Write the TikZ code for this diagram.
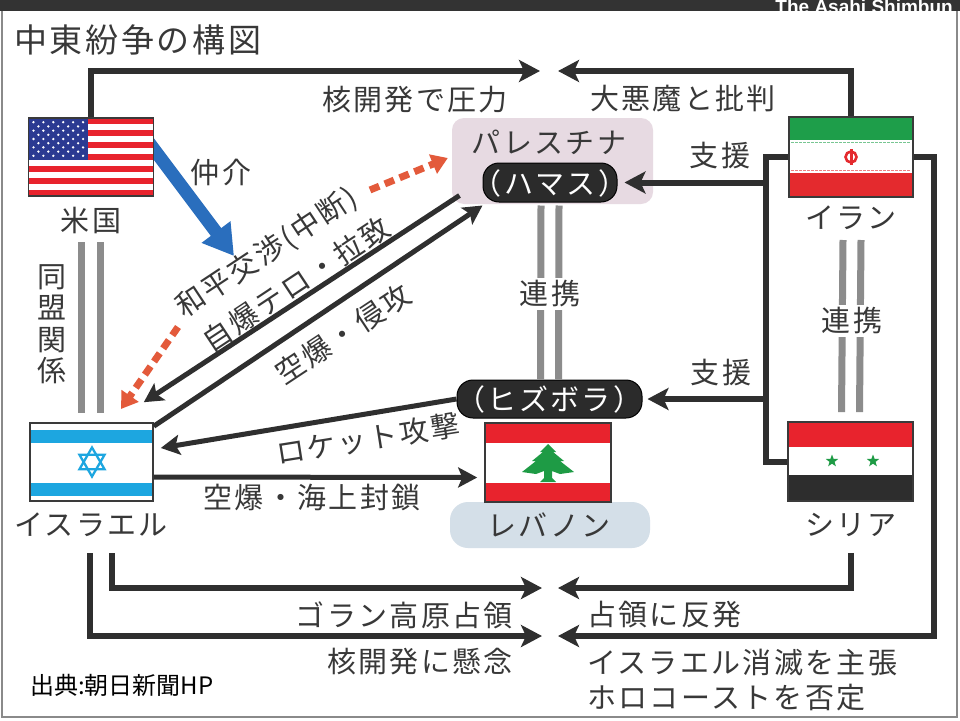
\documentclass[tikz,border=0pt]{standalone}
\usepackage{fontspec}
\setmainfont{Noto Sans CJK JP}
\newfontfamily\jp[LetterSpace=8]{Noto Sans CJK JP}
\newfontfamily\jpplain{Noto Sans CJK JP}
\newfontfamily\latsans{Liberation Sans}
\usetikzlibrary{arrows.meta,shapes.geometric}
\definecolor{ink}{HTML}{383838}
\definecolor{dline}{HTML}{2F2F2F}
\definecolor{gline}{HTML}{8C8C8C}
\definecolor{barc}{HTML}{333333}
\definecolor{framec}{HTML}{8A8A8A}
\definecolor{palc}{HTML}{E7DAE2}
\definecolor{lebc}{HTML}{D4DFE8}
\definecolor{pillc}{HTML}{2B2B2B}
\definecolor{usred}{HTML}{E8232D}
\definecolor{usblue}{HTML}{2B3A92}
\definecolor{irgreen}{HTML}{1E9E4A}
\definecolor{irred}{HTML}{E42A2E}
\definecolor{ilblue}{HTML}{1DA6E0}
\definecolor{cedar}{HTML}{1E9B45}
\definecolor{medblue}{HTML}{2A6EBD}
\definecolor{orng}{HTML}{E35A3B}
\definecolor{syblk}{HTML}{2D2D2D}
\definecolor{fbord}{HTML}{3A3A3A}
\tikzset{
  lbl/.style={font=\jp\fontsize{29}{30}\selectfont, text=ink, inner sep=0pt},
  conn/.style={draw=dline, line width=6pt},
  arr/.style={conn, -{Stealth[length=21pt,width=22pt,inset=5pt]}},
  darr/.style={draw=dline, line width=5pt, -{Stealth[length=19pt,width=20pt,inset=4pt]}},
  gl/.style={draw=gline, line width=7pt},
  pillbox/.style={fill=pillc, draw=black, line width=1pt, rounded corners=16pt, inner sep=0pt},
  pilltxt/.style={font=\jp\fontsize{29}{30}\selectfont, text=white, inner sep=0pt},
  flagbox/.style={draw=fbord, line width=1.6pt, inner sep=0pt},
  orarr/.style={draw=orng, line width=7pt, dash pattern=on 10pt off 6pt, -{Triangle[length=16pt,width=20pt]}},
}
\begin{document}
\begin{tikzpicture}[x=1pt,y=-1pt]
\useasboundingbox (0,0) rectangle (960,720);
\fill[white] (0,0) rectangle (960,720);
\fill[barc] (0,0) rectangle (960,11);
\draw[framec, line width=2pt] (2,11) -- (2,717) -- (957,717) -- (957,11);
\node[font=\latsans\bfseries\fontsize{19}{19}\selectfont, text=white, anchor=base east, inner sep=0pt] (brand) at (953,13) {The Asahi Shimbun};

% title
\node[anchor=west, font=\jp\fontsize{33}{34}\selectfont, text=ink, inner sep=0pt] (title) at (14,40) {中東紛争の構図};

% ---- boxes behind
\node[fill=palc, rounded corners=12pt, minimum width=201pt, minimum height=86pt, inner sep=0pt] (pal) at (552.5,161) {};
\node[lbl] (paltxt) at (549,142) {パレスチナ};
\node[pillbox, minimum width=134pt, minimum height=39pt] (hamas) at (550,182.5) {};
\node[pilltxt] (hamastxt) at (550,183) {（ハマス）};

\node[pillbox, minimum width=185pt, minimum height=38pt] (hez) at (549.5,399) {};
\node[pilltxt] (heztxt) at (549.5,399.5) {（ヒズボラ）};

\node[fill=lebc, rounded corners=18pt, minimum width=200pt, minimum height=46pt, inner sep=0pt] (leb) at (550,525) {};
\node[lbl] (lebtxt) at (549,525) {レバノン};

% ---- blue mediation arrow (behind US flag)
\coordinate (medtip) at (234,256);
\coordinate (medtail) at (147,140);
\draw[medblue, line width=13pt, -{Triangle[length=30pt,width=34pt]}] (medtail) -- (medtip);

% ---- US flag
\fill[white] (28.5,118) rectangle (153.5,196);
\foreach \i in {0,2,...,12} \fill[usred] (28.5,{118+6*\i}) rectangle (153.5,{124+6*\i});
\fill[usblue] (28.5,118) rectangle (88,160);
\foreach \r in {0,2,4,6,8} \foreach \c in {0,...,5} \fill[white] ({28.5+4.96*(2*\c+1)},{118+4.2*(\r+1)}) circle (1.3);
\foreach \r in {1,3,5,7} \foreach \c in {0,...,4} \fill[white] ({28.5+4.96*(2*\c+2)},{118+4.2*(\r+1)}) circle (1.3);
\node[flagbox, minimum width=125pt, minimum height=78pt] (us) at (91,157) {};
\node[lbl] (uslbl) at (91,220) {米国};

% ---- Iran flag
\fill[irgreen] (789,117) rectangle (913,140);
\fill[white] (789,140) rectangle (913,173);
\fill[irred] (789,173) rectangle (913,197);
\draw[irgreen!60, line width=1.4pt, dash pattern=on 2.5pt off 1.5pt] (791,142.5) -- (911,142.5);
\draw[irred!60, line width=1.4pt, dash pattern=on 2.5pt off 1.5pt] (791,170.5) -- (911,170.5);
\draw[irred, line width=2.6pt] (851,157) circle (5.5);
\fill[irred] (849.5,149) rectangle (852.5,165);
\node[flagbox, minimum width=124pt, minimum height=80pt] (iran) at (851,157) {};
\node[lbl] (iranlbl) at (851,218) {イラン};

% ---- Israel flag
\fill[white] (30,423) rectangle (153,501);
\fill[ilblue] (30,430) rectangle (153,443);
\fill[ilblue] (30,483) rectangle (153,496);
\draw[ilblue, line width=2.3pt] (92,462) +(90:14.5) -- +(210:14.5) -- +(330:14.5) -- cycle;
\draw[ilblue, line width=2.3pt] (92,462) +(30:14.5) -- +(150:14.5) -- +(270:14.5) -- cycle;
\node[flagbox, minimum width=123pt, minimum height=78pt] (isr) at (91.5,462) {};
\node[lbl] (isrlbl) at (91,525) {イスラエル};

% ---- Lebanon flag
\fill[usred] (485,423) rectangle (611,443);
\fill[white] (485,443) rectangle (611,483);
\fill[usred] (485,483) rectangle (611,502);
\fill[cedar] (548,444) -- (556,452) -- (553,452) -- (564,461) -- (560,461) -- (574,472) -- (560,474) -- (552,471) -- (552,478) -- (556,482) -- (540,482) -- (544,478) -- (544,471) -- (536,474) -- (522,472) -- (536,461) -- (532,461) -- (543,452) -- (540,452) -- cycle;
\node[flagbox, minimum width=126pt, minimum height=79pt] (lebf) at (548,462.5) {};

% ---- Syria flag
\fill[usred] (788,422) rectangle (913,447);
\fill[white] (788,447) rectangle (913,475);
\fill[syblk] (788,475) rectangle (913,501);
\node[star, star points=5, star point ratio=2.4, fill=cedar, inner sep=0pt, minimum size=13pt] (st1) at (832,461) {};
\node[star, star points=5, star point ratio=2.4, fill=cedar, inner sep=0pt, minimum size=13pt] (st2) at (873,461) {};
\node[flagbox, minimum width=125pt, minimum height=79pt] (syria) at (850.5,461.5) {};
\node[lbl] (syrlbl) at (851,525) {シリア};

% ---- top pressure lines
\coordinate (ttL) at (540,71);
\coordinate (ttR) at (558,71);
\draw[arr] (us.north) |- (ttL);
\draw[arr] (iran.north) |- (ttR);
\node[lbl] (l1) at (415,100) {核開発で圧力};
\node[lbl] (l2) at (683,99) {大悪魔と批判};

% ---- Iran support lines
\coordinate (jA) at (766,300);
\draw[conn] (iran.west) -| (jA) |- (syria.west);
\draw[arr, shorten >=7pt] (jA |- hamas) -- (hamas.east);
\draw[arr, shorten >=5pt] (jA |- hez) -- (hez.east);
\node[lbl] (sup1) at (720,156) {支援};
\node[lbl] (sup2) at (721,373) {支援};

% ---- right long line
\coordinate (jB) at (934,400);
\coordinate (bR1) at (558,588);
\coordinate (bR2) at (558,636);
\coordinate (bL1) at (542,588);
\coordinate (bL2) at (542,636);
\draw[arr] (iran.east) -| (jB) |- (bR2);
\draw[arr] ([yshift=-16pt]syrlbl.south) |- (bR1);
\draw[arr] ([shift={(21pt,-16pt)}]isrlbl.south) |- (bL1);
\draw[arr] ([shift={(-1pt,-16pt)}]isrlbl.south) |- (bL2);
\node[lbl, anchor=east] (l3) at (513,615) {ゴラン高原占領};
\node[lbl, anchor=west] (l4) at (587,615) {占領に反発};
\node[lbl, anchor=east] (l5) at (513,662) {核開発に懸念};
\node[lbl, anchor=west] (l6) at (587,662) {イスラエル消滅を主張};
\node[lbl, anchor=west] (l7) at (587,698) {ホロコーストを否定};

% ---- alliance double lines
\coordinate (usb) at (91,242);
\coordinate (ist) at (91,413);
\draw[gl] ([xshift=-9.5pt]usb) -- ([xshift=-9.5pt]ist);
\draw[gl] ([xshift=9.5pt]usb) -- ([xshift=9.5pt]ist);
\node[lbl, align=center, font=\jp\fontsize{29}{31.5}\selectfont] (ally) at (52,324) {同\\盟\\関\\係};

\draw[gl] ([shift={(-9pt,-3pt)}]hamas.south) -- ([xshift=-9pt]hez.north);
\draw[gl] ([shift={(9pt,-3pt)}]hamas.south) -- ([xshift=9pt]hez.north);
\node[lbl, fill=white, inner sep=3pt] (rk1) at (550,294) {連携};

\coordinate (irb) at (852,240);
\draw[gl] ([xshift=-9pt]irb) -- ([xshift=-9pt,yshift=9pt]syria.north);
\draw[gl] ([xshift=9pt]irb) -- ([xshift=9pt,yshift=9pt]syria.north);
\node[lbl, fill=white, inner sep=3pt] (rk2) at (852,321) {連携};

% ---- Israel <-> Hamas
\draw[darr] ([shift={(-23pt,7pt)}]hamas.south west) -- ([shift={(-10pt,20pt)}]isr.north east);
\draw[darr] ([shift={(0pt,-4pt)}]isr.north east) -- ([shift={(0pt,-3pt)}]hamas.south west);
\node[lbl, rotate=33.5] (t1) at (267,253) {和平交渉(中断)};
\node[lbl, rotate=33.5] (t2) at (296,284) {自爆テロ・拉致};
\node[lbl, rotate=33.5] (t3) at (343,334) {空爆・侵攻};

% ---- rockets and air strikes
\draw[darr] (hez.west) -- ([shift={(7pt,14pt)}]isr.east);
\node[lbl, rotate=9] (t4) at (368,439) {ロケット攻撃};
\draw[darr] ([yshift=-15pt]isr.east) -- ([shift={(-7pt,-15pt)}]lebf.west);
\node[lbl] (t5) at (312,497) {空爆・海上封鎖};

% ---- mediation
\node[lbl] (med) at (221,172) {仲介};
\coordinate (o1s) at (370,190);
\coordinate (o2s) at (178,327);
\coordinate (o2e) at (121,409);
\draw[orarr] (o1s) -- ([shift={(-4pt,3pt)}]pal.west);
\draw[orarr] (o2s) -- (o2e);

% ---- source
\node[anchor=west, font=\jpplain\fontsize{24}{24}\selectfont, text=black, inner sep=0pt] (src) at (30,685) {出典:朝日新聞HP};
\end{tikzpicture}
\end{document}
